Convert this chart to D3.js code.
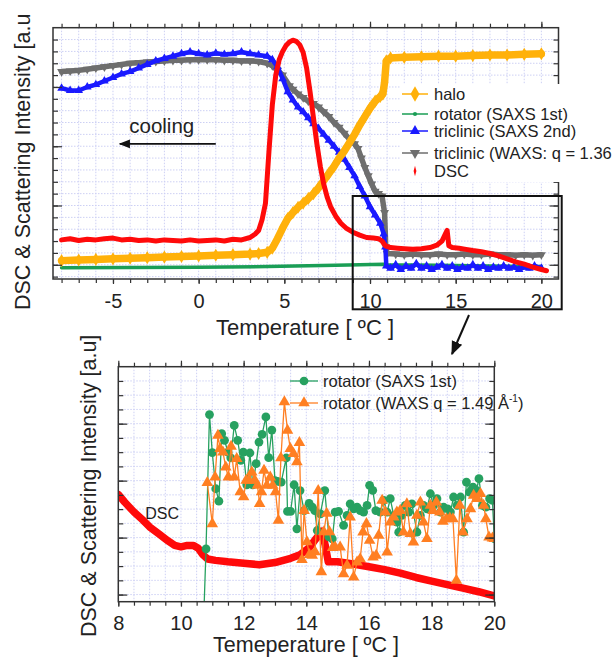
<!DOCTYPE html>
<html>
<head>
<meta charset="utf-8">
<script src="https://cdn.jsdelivr.net/npm/d3@7"></script>
<style>
  body { margin: 0; background: #fff; }
  text { font-family: "Liberation Sans", Arial, Helvetica, sans-serif; fill: #222; }
</style>
</head>
<body>
<svg id="chart" width="614" height="657"></svg>
<script>
// ---- top panel data: [temperature °C, intensity a.u.] ----
const haloTop = [[-8,0.35],[-7,0.4],[-6,0.45],[-5,0.5],[-4,0.55],[-3,0.6],[-2,0.65],[-1,0.7],[0,0.75],[1,0.8],[2,0.85],[3,0.9],[3.5,0.95],[4,1.05],[4.3,1.4],[4.6,2.2],[4.9,3.1],[5.2,3.9],[5.5,4.4],[5.8,4.85],[6.1,5.2],[6.4,5.6],[6.7,6.0],[7.0,6.5],[7.3,7.1],[7.6,7.7],[7.9,8.3],[8.2,9.0],[8.5,9.6],[8.8,10.3],[9.1,11.0],[9.4,11.8],[9.7,12.5],[10.0,13.2],[10.3,13.8],[10.6,14.2],[10.75,14.4],[10.85,15.4],[10.95,17.2],[11.2,17.45],[12,17.5],[13,17.55],[14,17.6],[15,17.6],[16,17.65],[17,17.7],[18,17.7],[19,17.75],[20,17.8]];
const rotatorSaxsTop = [[-8,-0.25],[-4,-0.22],[0,-0.2],[4,-0.15],[8,-0.05],[10.8,0.05],[11,0.0],[14,-0.05],[17,-0.1],[20,-0.15]];
const triclinicSaxsTop = [[-8,14.9],[-7.5,14.7],[-7,14.7],[-6.5,15.0],[-6,15.2],[-5.5,15.5],[-5,15.8],[-4.5,16.1],[-4,16.3],[-3.5,16.6],[-3,16.9],[-2.5,17.2],[-2,17.4],[-1.5,17.6],[-1,17.8],[-0.5,17.95],[0,17.8],[0.5,17.7],[1,17.85],[1.5,17.75],[2,17.8],[2.5,17.95],[3,17.8],[3.5,17.7],[4,17.6],[4.3,17.3],[4.6,16.7],[4.9,15.7],[5.2,14.6],[5.5,13.9],[5.8,13.3],[6.1,12.9],[6.4,12.4],[6.7,11.9],[7.0,11.5],[7.3,11.0],[7.6,10.5],[7.9,10.0],[8.2,9.5],[8.5,8.9],[8.8,8.2],[9.1,7.5],[9.4,6.6],[9.7,5.8],[10.0,4.9],[10.3,4.2],[10.6,3.5],[10.8,2.6],[10.9,1.5],[10.95,-0.1],[11.2,-0.3],[11.5,0.0],[11.8,-0.4],[12.1,-0.1],[12.4,-0.3],[12.7,0.1],[13,-0.3],[13.3,-0.1],[13.6,-0.4],[13.9,-0.2],[14.2,0.0],[14.5,-0.3],[14.8,-0.1],[15.1,-0.4],[15.4,-0.2],[15.7,-0.3],[16,0.0],[16.3,-0.3],[16.6,-0.1],[16.9,-0.4],[17.2,-0.2],[17.5,-0.3],[17.8,-0.1],[18.1,-0.3],[18.4,-0.2],[18.7,-0.4],[19,-0.2],[19.3,-0.3],[19.6,-0.1],[20,-0.3]];
const triclinicWaxsTop = [[-8,16.3],[-7.5,16.35],[-7,16.4],[-6.5,16.5],[-6,16.6],[-5.5,16.7],[-5,16.8],[-4.5,16.9],[-4,17.0],[-3.5,17.05],[-3,17.1],[-2.5,17.15],[-2,17.2],[-1.5,17.25],[-1,17.25],[-0.5,17.3],[0,17.3],[0.5,17.3],[1,17.3],[1.5,17.25],[2,17.25],[2.5,17.2],[3,17.2],[3.5,17.15],[4,17.0],[4.3,16.8],[4.6,16.4],[4.9,16.0],[5.3,15.1],[5.5,14.8],[5.8,14.4],[6.1,14.1],[6.4,13.8],[6.7,13.6],[7.0,13.3],[7.3,12.9],[7.6,12.5],[7.9,12.0],[8.2,11.6],[8.5,11.1],[8.8,10.6],[9.1,10.2],[9.3,9.8],[9.5,9.0],[9.7,8.2],[9.9,7.5],[10.1,6.8],[10.3,6.2],[10.5,6.0],[10.7,5.8],[10.85,4.4],[10.92,1.5],[11.0,0.95],[11.5,0.9],[12,0.85],[12.5,0.9],[13,0.85],[13.5,0.85],[14,0.9],[14.5,0.85],[15,0.85],[15.5,0.9],[16,0.85],[16.5,0.85],[17,0.9],[17.5,0.85],[18,0.85],[18.5,0.8],[19,0.85],[19.5,0.8],[20,0.85]];
const dscTop = [[-8,2.1],[-7.5,2.2],[-7,2.05],[-6.5,2.15],[-6,2.1],[-5.5,2.2],[-5,2.25],[-4.5,2.1],[-4,2.15],[-3.5,2.05],[-3,2.1],[-2.5,2.0],[-2,2.1],[-1.5,2.05],[-1,2.0],[-0.5,2.1],[0,2.0],[0.5,2.05],[1,2.1],[1.5,2.0],[2,2.15],[2.5,2.1],[3.0,2.3],[3.3,2.6],[3.5,2.9],[3.7,3.8],[3.9,5.2],[4.1,9.5],[4.3,13.5],[4.5,16.0],[4.7,17.3],[4.9,18.0],[5.1,18.5],[5.3,18.8],[5.5,18.95],[5.7,18.85],[5.9,18.55],[6.1,17.9],[6.3,16.6],[6.5,14.6],[6.7,12.4],[6.9,10.2],[7.1,8.3],[7.3,6.8],[7.5,5.7],[7.7,4.9],[8.0,4.1],[8.3,3.5],[8.6,3.1],[9.0,2.75],[9.4,2.5],[9.8,2.3],[10.2,2.25],[10.5,2.2],[10.7,2.0],[10.9,1.6],[11.2,1.45],[11.6,1.4],[12,1.35],[12.5,1.3],[13,1.35],[13.5,1.45],[13.9,1.65],[14.2,2.0],[14.4,2.6],[14.5,2.9],[14.6,1.6],[14.8,1.45],[15.2,1.4],[15.6,1.3],[16,1.2],[16.5,1.1],[17,0.95],[17.5,0.75],[18,0.5],[18.5,0.25],[19,0.05],[19.5,-0.2],[20,-0.4],[20.3,-0.5]];

const topLegendLabels = ["halo", "rotator (SAXS 1st)", "triclinic (SAXS 2nd)", "triclinic (WAXS: q = 1.36", "DSC"];
const topTickLabels = [-5, 0, 5, 10, 15, 20];

// ---- bottom panel data ----
const rotatorSaxsBottom = [[10.72,-2],[10.80,3.21],[10.91,12.64],[11.0,9.96],[11.11,7.43],[11.21,6.56],[11.30,11.30],[11.39,10.83],[11.5,10.0],[11.59,9.6],[11.70,11.88],[11.81,10.83],[11.91,9.42],[11.99,10.0],[12.10,7.71],[12.2,9.94],[12.29,7.71],[12.40,9.19],[12.49,10.71],[12.59,11.25],[12.71,12.47],[12.80,9.61],[12.90,11.55],[13.0,8.0],[13.08,7.95],[13.2,7.9],[13.36,9.59],[13.40,5.84],[13.50,5.84],[13.61,7.71],[13.70,4.62],[13.80,7.3],[13.93,5.9],[14.09,6.4],[14.19,6.14],[14.27,5.9],[14.35,4.5],[14.45,5.67],[14.59,7.3],[14.72,4.05],[14.83,3.91],[14.92,5.79],[15.03,5.84],[15.19,4.86],[15.30,5.56],[15.40,6.37],[15.51,6.02],[15.62,6.14],[15.72,5.9],[15.83,5.79],[15.94,6.26],[16.02,7.67],[16.12,7.32],[16.22,5.9],[16.36,5.79],[16.47,6.61],[16.58,5.79],[16.68,6.73],[16.79,5.56],[16.89,5.09],[16.95,4.38],[17.05,5.56],[17.16,6.26],[17.27,5.79],[17.37,6.37],[17.53,4.38],[17.64,5.56],[17.74,6.26],[17.85,6.02],[17.96,7.08],[18.06,6.26],[18.17,6.73],[18.28,5.79],[18.38,6.14],[18.51,6.02],[18.60,5.79],[18.70,6.85],[18.81,6.26],[18.92,6.85],[19.02,4.38],[19.11,7.9],[19.21,7.2],[19.32,7.55],[19.43,7.32],[19.51,8.14],[19.62,6.26],[19.73,6.14],[19.85,6.73],[19.94,6.61],[20.0,3.92]];
const rotatorWaxsBottom = [[10.84,7.85],[11.0,4.97],[11.09,8.25],[11.18,11.18],[11.25,10.24],[11.34,10.0],[11.43,8.95],[11.51,8.25],[11.60,10.41],[11.70,8.25],[11.78,9.54],[11.89,7.2],[12.0,6.85],[12.08,8.02],[12.17,8.02],[12.26,8.6],[12.36,8.02],[12.44,7.67],[12.51,6.38],[12.57,7.2],[12.65,8.72],[12.74,7.67],[12.85,8.25],[12.93,7.67],[13.02,7.2],[13.11,5.2],[13.19,9.59],[13.30,13.53],[13.40,11.53],[13.49,10.24],[13.59,9.89],[13.70,9.31],[13.78,10.67],[13.86,2.45],[13.93,5.9],[14.02,3.7],[14.1,2.8],[14.19,2.75],[14.28,3.0],[14.38,7.3],[14.48,1.6],[14.56,4.4],[14.65,5.7],[14.74,4.4],[14.84,3.3],[14.92,3.33],[15.08,3.33],[15.19,1.46],[15.30,2.05],[15.40,5.44],[15.51,1.23],[15.62,2.28],[15.72,2.51],[15.81,4.38],[15.92,4.97],[16.02,3.8],[16.13,2.63],[16.23,2.75],[16.31,4.15],[16.42,6.61],[16.52,5.79],[16.58,2.98],[16.68,5.09],[16.79,5.44],[16.89,5.79],[17.0,5.9],[17.1,4.38],[17.21,6.37],[17.32,4.27],[17.42,3.68],[17.53,5.56],[17.64,6.49],[17.74,5.09],[17.85,3.92],[17.96,6.26],[18.04,5.9],[18.15,6.49],[18.26,5.79],[18.36,5.14],[18.47,5.32],[18.58,5.37],[18.68,5.32],[18.79,0.99],[18.9,6.26],[19.0,4.38],[19.13,5.32],[19.24,6.02],[19.34,6.96],[19.45,6.73],[19.56,7.08],[19.66,6.26],[19.73,5.32],[19.83,4.03],[19.94,3.96],[20.0,3.92]];
const dscBottom = [[8,7.03],[8.2,6.5],[8.5,5.8],[8.8,5.2],[9.0,4.75],[9.3,4.25],[9.6,3.75],[9.8,3.45],[10.0,3.35],[10.2,3.45],[10.4,3.45],[10.55,3.25],[10.7,2.8],[10.85,2.5],[11.1,2.4],[11.5,2.3],[12,2.2],[12.5,2.1],[13,2.25],[13.5,2.55],[13.8,2.8],[14.1,3.3],[14.3,3.9],[14.5,4.45],[14.6,3.5],[14.7,2.3],[15,2.3],[15.5,2.15],[16,1.95],[16.5,1.75],[17,1.5],[17.5,1.2],[18,0.95],[18.5,0.7],[19,0.45],[19.5,0.2],[20,-0.1]];

const bottomLegendLabels = ["rotator (SAXS 1st)", "rotator (WAXS q = 1.49 Å"];
const bottomTickLabels = [8, 10, 12, 14, 16, 18, 20];

const svg = d3.select("#chart");
const frameColor = "#333";
const gridColor = "#cdd0f4";

// ================= top panel =================
const xTop = d3.scaleLinear().domain([-8.5, 21]).range([53, 558.5]);
const yTop = d3.scaleLinear().domain([-1.2, 20]).range([279, 27.7]);

const topPanel = svg.append("g");
topPanel.append("clipPath").attr("id", "clipTop").append("rect")
    .attr("x", xTop(-8.5)).attr("y", yTop(20))
    .attr("width", xTop(21) - xTop(-8.5)).attr("height", yTop(-1.2) - yTop(20));

// grid
topPanel.append("g").selectAll("line").data(d3.range(-8, 21, 1)).join("line")
    .attr("x1", d => xTop(d)).attr("x2", d => xTop(d))
    .attr("y1", yTop(20)).attr("y2", yTop(-1.2))
    .attr("stroke", gridColor).attr("stroke-dasharray", "1.5,1.5");
topPanel.append("g").selectAll("line").data(d3.range(-1, 20, 1)).join("line")
    .attr("x1", xTop(-8.5)).attr("x2", xTop(21))
    .attr("y1", d => yTop(d)).attr("y2", d => yTop(d))
    .attr("stroke", gridColor).attr("stroke-dasharray", "1.5,1.5");

const lineTop = d3.line().x(d => xTop(d[0])).y(d => yTop(d[1]));
// symbol: marker drawn at each read point (null = plain line)
const topSeries = [
    { data: rotatorSaxsTop, color: "#1a9e55", width: 3.5, symbol: null },
    { data: triclinicWaxsTop, color: "#6e6e6e", width: 5.5, symbol: d3.symbolTriangle, size: 34, flip: true },
    { data: triclinicSaxsTop, color: "#1a1aff", width: 4.5, symbol: d3.symbolTriangle, size: 32 },
    { data: haloTop, color: "#ffb10a", width: 7.5, symbol: d3.symbolDiamond, size: 50 },
    { data: dscTop, color: "#ff0a0a", width: 5, symbol: null }
];
const plotTop = topPanel.append("g").attr("clip-path", "url(#clipTop)");
topSeries.forEach(s => {
    plotTop.append("path").datum(s.data)
        .attr("d", lineTop)
        .attr("fill", "none")
        .attr("stroke", s.color)
        .attr("stroke-width", s.width)
        .attr("stroke-linejoin", "round")
        .attr("stroke-linecap", "round");
    if (s.symbol) {
        plotTop.append("g").selectAll("path").data(s.data).join("path")
            .attr("d", d3.symbol().type(s.symbol).size(s.size))
            .attr("transform", d => `translate(${xTop(d[0])},${yTop(d[1])})` + (s.flip ? " rotate(180)" : ""))
            .attr("fill", s.color);
    }
});

// axes
function styleAxis(g) {
    g.select(".domain").remove();
    g.selectAll(".tick line").attr("stroke", frameColor).attr("stroke-width", 1.2);
    g.selectAll("text").attr("font-size", 20).attr("fill", "#222")
        .attr("font-family", '"Liberation Sans", Arial, sans-serif');
}
const plainNum = d => String(d);
const topMinorX = d3.range(-8, 21, 1);
topPanel.append("g").attr("transform", `translate(0,${yTop(-1.2)})`)
    .call(d3.axisBottom(xTop).tickValues(topMinorX).tickSize(4).tickFormat("")).call(styleAxis);
topPanel.append("g").attr("transform", `translate(0,${yTop(-1.2)})`)
    .call(d3.axisBottom(xTop).tickValues(topTickLabels).tickSize(5).tickPadding(10).tickFormat(plainNum)).call(styleAxis);
topPanel.append("g").attr("transform", `translate(0,${yTop(20)})`)
    .call(d3.axisTop(xTop).tickValues(topMinorX).tickSize(4).tickFormat("")).call(styleAxis);
topPanel.append("g").attr("transform", `translate(0,${yTop(20)})`)
    .call(d3.axisTop(xTop).tickValues(topTickLabels).tickSize(6).tickFormat("")).call(styleAxis);
const topMinorY = d3.range(-1, 20, 1);
const topMajorY = [0, 5, 10, 15];
[[d3.axisLeft, xTop(-8.5)], [d3.axisRight, xTop(21)]].forEach(([ax, px]) => {
    topPanel.append("g").attr("transform", `translate(${px},0)`)
        .call(ax(yTop).tickValues(topMinorY).tickSize(-5).tickFormat("")).call(styleAxis);
    topPanel.append("g").attr("transform", `translate(${px},0)`)
        .call(ax(yTop).tickValues(topMajorY).tickSize(-9).tickFormat("")).call(styleAxis);
});
topPanel.append("rect")
    .attr("x", xTop(-8.5)).attr("y", yTop(20))
    .attr("width", xTop(21) - xTop(-8.5)).attr("height", yTop(-1.2) - yTop(20))
    .attr("fill", "none").attr("stroke", frameColor).attr("stroke-width", 1.5);

// axis titles
topPanel.append("text").attr("x", 305).attr("y", 335).attr("text-anchor", "middle")
    .attr("font-size", 22).text("Temperature [ ºC ]");
topPanel.append("text").attr("transform", "translate(29.5,310) rotate(-90)")
    .attr("font-size", 21.5).text("DSC & Scattering Intensity [a.u");

// cooling arrow
svg.append("defs").html(
    '<marker id="arrowHead" viewBox="0 0 10 10" refX="9" refY="5" markerWidth="7" markerHeight="7" orient="auto-start-reverse">' +
    '<path d="M0,1 L10,5 L0,9 z" fill="#111"/></marker>');
topPanel.append("line")
    .attr("x1", xTop(1)).attr("x2", xTop(-4.6))
    .attr("y1", yTop(10.2)).attr("y2", yTop(10.2))
    .attr("stroke", "#111").attr("stroke-width", 1.6)
    .attr("marker-end", "url(#arrowHead)");
topPanel.append("text").attr("x", xTop(-4.05)).attr("y", yTop(11.1))
    .attr("font-size", 20.5).text("cooling");

// legend
const legTop = topPanel.append("g");
legTop.append("rect").attr("x", 400).attr("y", 84).attr("width", 214).attr("height", 98).attr("fill", "#fff");
const legRowsY = [94, 114, 131, 153, 171];
const legSymbols = [d3.symbolDiamond, d3.symbolCircle, d3.symbolTriangle, d3.symbolTriangle, d3.symbolDiamond];
const legSizes = [70, 14, 45, 45, 18];
topLegendLabels.forEach((label, i) => {
    const s = topSeries[[3, 0, 2, 1, 4][i]];
    const cy = legRowsY[i];
    if (i < 4) {
        legTop.append("line").attr("x1", 402).attr("x2", 428).attr("y1", cy).attr("y2", cy)
            .attr("stroke", s.color).attr("stroke-width", 1.5);
    }
    legTop.append("path")
        .attr("d", d3.symbol().type(legSymbols[i]).size(legSizes[i]))
        .attr("transform", `translate(415,${cy})` + (i === 3 ? " rotate(180)" : "") + (i === 4 ? " scale(0.6,1.3)" : ""))
        .attr("fill", s.color);
    legTop.append("text").attr("x", 434).attr("y", cy + 5.5).attr("font-size", 16.5).text(label);
});

// zoom box and arrow to lower panel
svg.append("rect").attr("x", 352.7).attr("y", 196).attr("width", 209).attr("height", 113.3)
    .attr("fill", "none").attr("stroke", "#111").attr("stroke-width", 2);
svg.append("line").attr("x1", 469).attr("y1", 315).attr("x2", 452).attr("y2", 354)
    .attr("stroke", "#111").attr("stroke-width", 2).attr("marker-end", "url(#arrowHead)");

// ================= bottom panel =================
const xBot = d3.scaleLinear().domain([8, 20]).range([118.3, 494.3]);
const yBot = d3.scaleLinear().domain([-0.5, 16]).range([601.7, 366.7]);

const bot = svg.append("g");
bot.append("clipPath").attr("id", "clipBot").append("rect")
    .attr("x", xBot(8)).attr("y", yBot(16))
    .attr("width", xBot(20) - xBot(8)).attr("height", yBot(-0.5) - yBot(16));

bot.append("g").selectAll("line").data(d3.range(8, 20.01, 0.5)).join("line")
    .attr("x1", d => xBot(d)).attr("x2", d => xBot(d))
    .attr("y1", yBot(16)).attr("y2", yBot(-0.5))
    .attr("stroke", gridColor).attr("stroke-dasharray", "1.5,1.5");
bot.append("g").selectAll("line").data(d3.range(0, 16, 1)).join("line")
    .attr("x1", xBot(8)).attr("x2", xBot(20))
    .attr("y1", d => yBot(d)).attr("y2", d => yBot(d))
    .attr("stroke", gridColor).attr("stroke-dasharray", "1.5,1.5");

const lineBot = d3.line().x(d => xBot(d[0])).y(d => yBot(d[1]));
const plotBot = bot.append("g").attr("clip-path", "url(#clipBot)");
plotBot.append("path").datum(dscBottom).attr("d", lineBot)
    .attr("fill", "none").attr("stroke", "#ff0a0a").attr("stroke-width", 7.5)
    .attr("stroke-linejoin", "round").attr("stroke-linecap", "round");

const green = "#27a160", orange = "#ff7f22";
plotBot.append("path").datum(rotatorSaxsBottom).attr("d", lineBot)
    .attr("fill", "none").attr("stroke", green).attr("stroke-width", 1.3);
plotBot.append("g").selectAll("circle").data(rotatorSaxsBottom).join("circle")
    .attr("cx", d => xBot(d[0])).attr("cy", d => yBot(d[1])).attr("r", 4.4).attr("fill", green);
plotBot.append("path").datum(rotatorWaxsBottom).attr("d", lineBot)
    .attr("fill", "none").attr("stroke", orange).attr("stroke-width", 1.3);
plotBot.append("g").selectAll("path.tri").data(rotatorWaxsBottom).join("path")
    .attr("class", "tri")
    .attr("d", d3.symbol().type(d3.symbolTriangle).size(58))
    .attr("transform", d => `translate(${xBot(d[0])},${yBot(d[1])})`)
    .attr("fill", orange);

bot.append("text").attr("x", xBot(9.4)).attr("y", yBot(5.3)).attr("text-anchor", "middle")
    .attr("font-size", 16).attr("fill", "#333").text("DSC");

const botMinorX = d3.range(8, 20.01, 0.5);
bot.append("g").attr("transform", `translate(0,${yBot(-0.5)})`)
    .call(d3.axisBottom(xBot).tickValues(botMinorX).tickSize(4).tickFormat("")).call(styleAxis);
bot.append("g").attr("transform", `translate(0,${yBot(-0.5)})`)
    .call(d3.axisBottom(xBot).tickValues(bottomTickLabels).tickSize(5).tickPadding(9).tickFormat(plainNum)).call(styleAxis);
bot.append("g").attr("transform", `translate(0,${yBot(16)})`)
    .call(d3.axisTop(xBot).tickValues(botMinorX).tickSize(4).tickFormat("")).call(styleAxis);
bot.append("g").attr("transform", `translate(0,${yBot(16)})`)
    .call(d3.axisTop(xBot).tickValues(bottomTickLabels).tickSize(6).tickFormat("")).call(styleAxis);
const botMinorY = d3.range(0, 16, 1);
const botMajorY = [0, 4, 8, 12];
[[d3.axisLeft, xBot(8)], [d3.axisRight, xBot(20)]].forEach(([ax, px]) => {
    bot.append("g").attr("transform", `translate(${px},0)`)
        .call(ax(yBot).tickValues(botMinorY).tickSize(-5).tickFormat("")).call(styleAxis);
    bot.append("g").attr("transform", `translate(${px},0)`)
        .call(ax(yBot).tickValues(botMajorY).tickSize(-9).tickFormat("")).call(styleAxis);
});
bot.append("rect")
    .attr("x", xBot(8)).attr("y", yBot(16))
    .attr("width", xBot(20) - xBot(8)).attr("height", yBot(-0.5) - yBot(16))
    .attr("fill", "none").attr("stroke", frameColor).attr("stroke-width", 1.5);

bot.append("text").attr("x", 306).attr("y", 652).attr("text-anchor", "middle")
    .attr("font-size", 21.5).text("Temeperature [ ºC ]");
bot.append("text").attr("transform", "translate(96,637) rotate(-90)")
    .attr("font-size", 21.5).text("DSC & Scattering Intensity [a.u]");

// bottom legend
const legBot = bot.append("g");
[[381, green, d3.symbolCircle, 60], [403, orange, d3.symbolTriangle, 58]].forEach(([cy, c, sym, sz], i) => {
    legBot.append("line").attr("x1", 290).attr("x2", 318).attr("y1", cy).attr("y2", cy)
        .attr("stroke", c).attr("stroke-width", 1.3);
    legBot.append("path").attr("d", d3.symbol().type(sym).size(sz))
        .attr("transform", `translate(304,${cy})`).attr("fill", c);
    const t = legBot.append("text").attr("x", 323).attr("y", cy + 5.5).attr("font-size", 16.5)
        .text(bottomLegendLabels[i]);
    if (i === 1) {
        t.append("tspan").attr("font-size", 10).attr("dy", -7).text("-1");
        t.append("tspan").attr("dy", 7).text(")");
    }
});
</script>
</body>
</html>
